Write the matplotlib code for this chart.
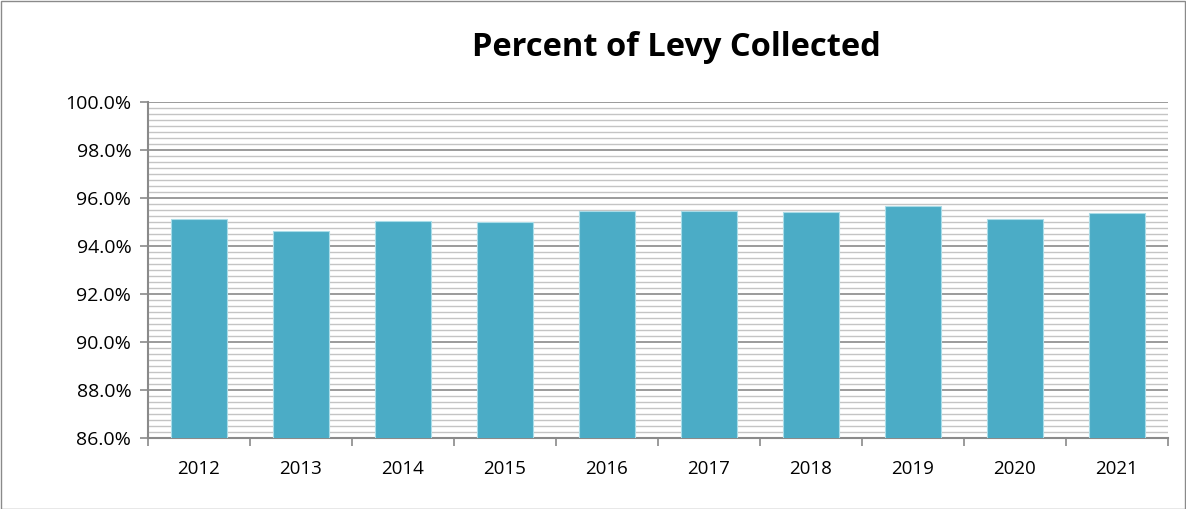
import matplotlib
matplotlib.use("Agg")
import matplotlib.pyplot as plt
from matplotlib.patches import Rectangle
from matplotlib.ticker import MultipleLocator, FuncFormatter

years = ["2012", "2013", "2014", "2015", "2016", "2017", "2018", "2019", "2020", "2021"]
pct = [95.11, 94.61, 95.04, 95.00, 95.47, 95.47, 95.40, 95.67, 95.12, 95.38]

plt.rcParams["font.family"] = ["Open Sans", "DejaVu Sans"]

fig = plt.figure(figsize=(11.86, 5.09), dpi=100)
ax = fig.add_axes([148 / 1186, 1 - 438 / 509, 1020 / 1186, 336 / 509])

x = list(range(len(years)))
ax.bar(x, pct, width=0.55, color="#4BACC6", edgecolor="#A9DCE8", linewidth=0.8, zorder=3)

ax.set_xlim(-0.5, len(years) - 0.5)
ax.set_ylim(86, 100)
ax.yaxis.set_major_locator(MultipleLocator(2))
ax.yaxis.set_minor_locator(MultipleLocator(0.25))
ax.yaxis.set_major_formatter(FuncFormatter(lambda v, _: f"{v:.1f}%"))
ax.grid(which="major", axis="y", color="#8a8a8a", linewidth=1.2, zorder=1)
ax.grid(which="minor", axis="y", color="#c4c4c4", linewidth=1.0, zorder=1)

ax.set_xticks(x)
ax.set_xticklabels(years)
ax.set_xticks([i - 0.5 for i in range(len(years) + 1)], minor=True)
ax.tick_params(axis="x", which="major", length=0, pad=16, labelsize=13.5)
ax.tick_params(axis="x", which="minor", length=6, color="#8a8a8a", width=1.2)
ax.tick_params(axis="y", which="major", length=6, color="#8a8a8a", width=1.2, labelsize=14, pad=6)
ax.tick_params(axis="y", which="minor", length=0)

for side in ("top", "right"):
    ax.spines[side].set_visible(False)
for side in ("left", "bottom"):
    ax.spines[side].set_color("#8a8a8a")
    ax.spines[side].set_linewidth(1.5)

fig.text(676 / 1186, 1 - 48 / 509, "Percent of Levy Collected", ha="center", va="center",
         fontsize=23.5, fontweight="bold")

fig.patches.append(Rectangle((0.5 / 1186, 0.5 / 509), 1184.5 / 1186, 507.5 / 509,
                             transform=fig.transFigure, fill=False, edgecolor="#8a8a8a", linewidth=1))

fig.savefig("out.png", dpi=100)
